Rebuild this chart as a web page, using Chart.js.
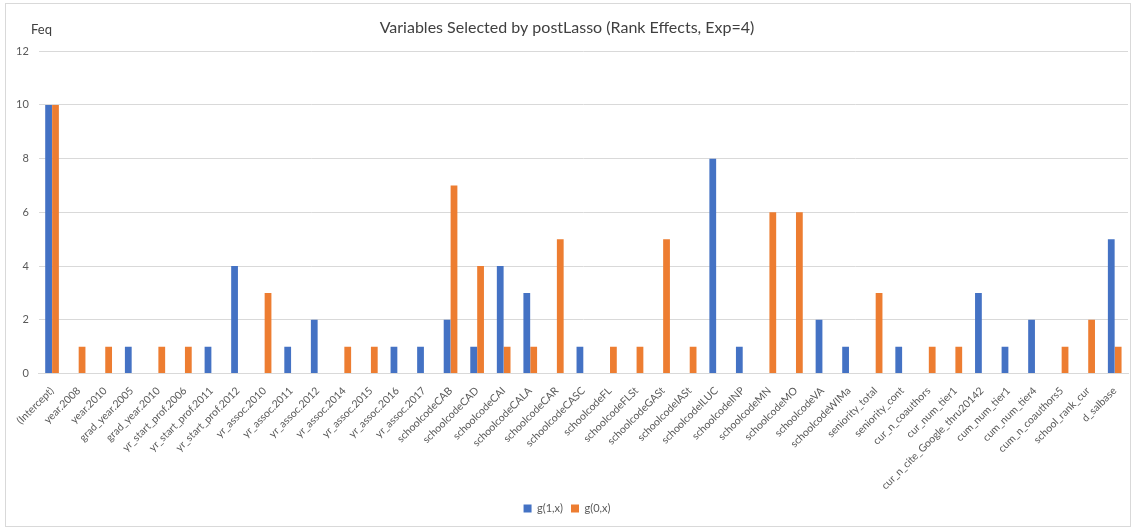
<!DOCTYPE html>
<html>
<head>
<meta charset="utf-8">
<script src="https://cdn.jsdelivr.net/npm/chart.js@4/dist/chart.umd.min.js"></script>
<style>
  body { margin: 0; background: #fff; }
  #wrap { position: absolute; left: 5px; top: 3px; width: 1126px; height: 524px; border: 1px solid #d9d9d9; box-sizing: border-box; }
</style>
</head>
<body>
<div id="wrap"><canvas id="chart"></canvas></div>
<script>
const labels = ['(Intercept)', 'year.2008', 'year.2010', 'grad_year.2005', 'grad_year.2010',
  'yr_start_prof.2006', 'yr_start_prof.2011', 'yr_start_prof.2012', 'yr_assoc.2010', 'yr_assoc.2011',
  'yr_assoc.2012', 'yr_assoc.2014', 'yr_assoc.2015', 'yr_assoc.2016', 'yr_assoc.2017',
  'schoolcodeCAB', 'schoolcodeCAD', 'schoolcodeCAI', 'schoolcodeCALA', 'schoolcodeCAR',
  'schoolcodeCASC', 'schoolcodeFL', 'schoolcodeFLSt', 'schoolcodeGASt', 'schoolcodeIASt',
  'schoolcodeILUC', 'schoolcodeINP', 'schoolcodeMN', 'schoolcodeMO', 'schoolcodeVA',
  'schoolcodeWIMa', 'seniority_total', 'seniority_cont', 'cur_n_coauthors', 'cur_num_tier1',
  'cur_n_cite_Google_thru20142', 'cum_num_tier1', 'cum_num_tier4', 'cum_n_coauthors5',
  'school_rank_cur', 'd_salbase'];

const g1 = [10, 0, 0, 1, 0, 0, 1, 4, 0, 1, 2, 0, 0, 1, 1, 2, 1, 4, 3, 0, 1, 0, 0, 0, 0, 8, 1, 0, 0, 2, 1, 0, 1, 0, 0, 3, 1, 2, 0, 0, 5];
const g0 = [10, 1, 1, 0, 1, 1, 0, 0, 3, 0, 0, 1, 1, 0, 0, 7, 4, 1, 1, 5, 0, 1, 1, 5, 1, 0, 0, 6, 6, 0, 0, 3, 0, 1, 1, 0, 0, 0, 1, 2, 1];

const BLUE = '#4472C4';
const ORANGE = '#ED7D31';
const FONT = 'Lato, "Open Sans", sans-serif';

// "Feq" label sitting above the y axis
const yLabel = {
  id: 'yLabel',
  afterDraw(chart) {
    const ctx = chart.ctx;
    ctx.save();
    ctx.font = '13px ' + FONT;
    ctx.fillStyle = '#404040';
    ctx.textBaseline = 'middle';
    ctx.fillText('Feq', 25, 26);
    ctx.restore();
  }
};

new Chart(document.getElementById('chart'), {
  type: 'bar',
  data: {
    labels: labels,
    datasets: [
      { label: 'g(1,x)', data: g1, backgroundColor: BLUE },
      { label: 'g(0,x)', data: g0, backgroundColor: ORANGE },
    ],
  },
  options: {
    responsive: true,
    maintainAspectRatio: false,
    animation: false,
    categoryPercentage: 0.52,
    barPercentage: 0.98,
    layout: { padding: { left: 0, right: 2, top: 4, bottom: 2 } },
    plugins: {
      title: {
        display: true,
        text: 'Variables Selected by postLasso (Rank Effects, Exp=4)',
        color: '#404040',
        font: { family: FONT, size: 16, weight: 'normal' },
        padding: { top: 10, bottom: 14 },
      },
      legend: {
        position: 'bottom',
        labels: {
          color: '#595959',
          font: { family: FONT, size: 11 },
          boxWidth: 8,
          boxHeight: 8,
          padding: 8,
        },
      },
      tooltip: { enabled: false },
    },
    scales: {
      x: {
        grid: { display: false },
        border: { color: '#d9d9d9' },
        ticks: {
          color: '#595959',
          font: { family: FONT, size: 10.5 },
          minRotation: 45,
          maxRotation: 45,
          autoSkip: false,
        },
      },
      y: {
        min: 0,
        max: 12,
        grid: { color: '#d9d9d9', drawTicks: false },
        border: { display: false },
        ticks: {
          stepSize: 2,
          padding: 10,
          color: '#595959',
          font: { family: FONT, size: 11 },
        },
      },
    },
  },
  plugins: [yLabel],
});
</script>
</body>
</html>
